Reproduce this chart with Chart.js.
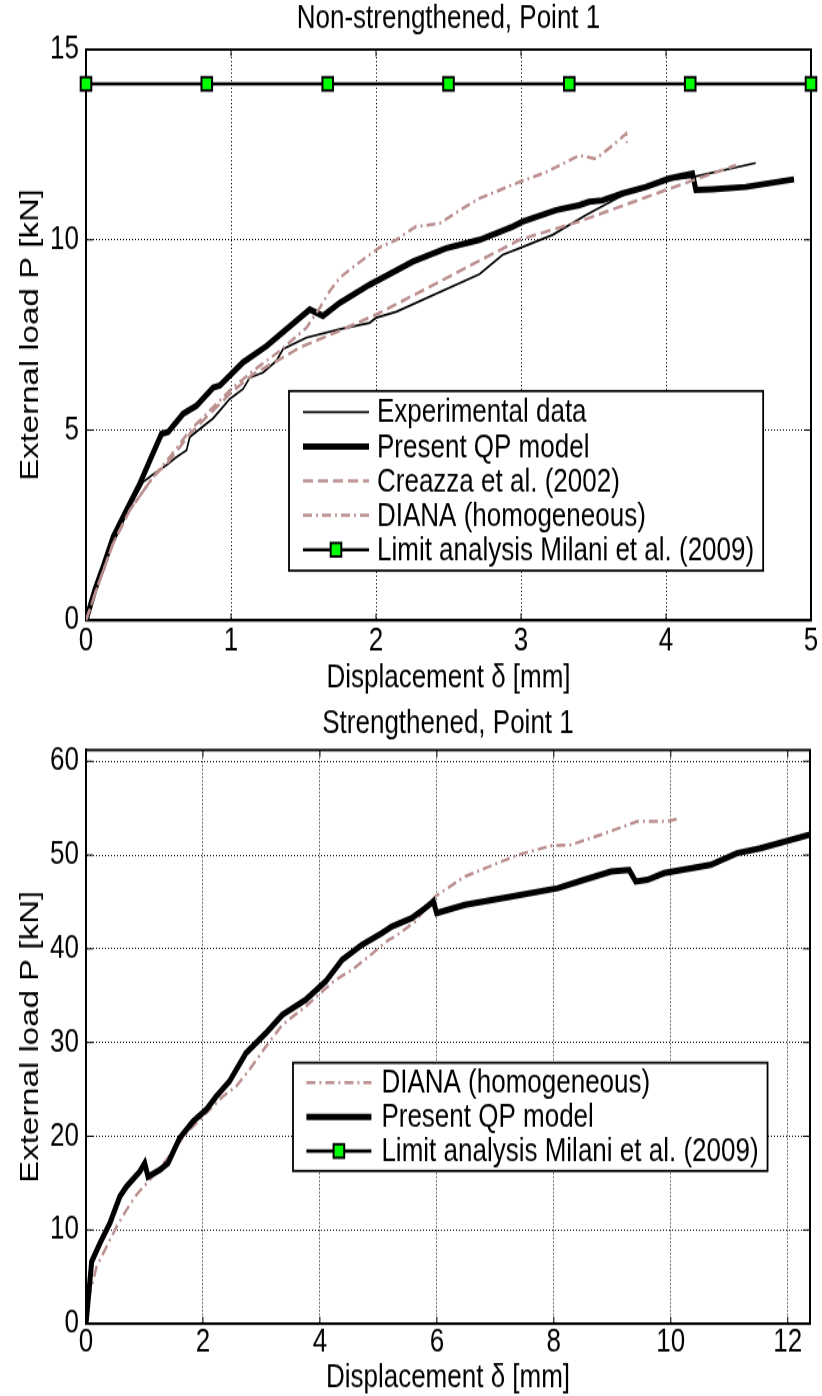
<!DOCTYPE html>
<html>
<head>
<meta charset="utf-8">
<script src="https://cdn.jsdelivr.net/npm/chart.js@4.4.0/dist/chart.umd.min.js"></script>
<style>
  html, body { margin: 0; padding: 0; background: #fff; }
  canvas { display: block; }
</style>
</head>
<body>
<!-- the figure is stretched vertically, like the original export -->
<canvas id="grafNoRef" width="822" height="551" style="width:822px;height:700px"></canvas>
<canvas id="grafRef" width="822" height="548" style="width:822px;height:696px"></canvas>
<script>
// ---- Non-strengthened, Point 1 ----
const ticksX1 = [0, 1, 2, 3, 4, 5];
const ticksY1 = [0, 5, 10, 15];

const expX = [0, 0.073, 0.188, 0.303, 0.395, 0.452, 0.556, 0.624, 0.693, 0.716, 0.877, 0.992, 1.083, 1.129, 1.221, 1.313, 1.359, 1.52, 1.749, 1.956, 2.0, 2.14, 2.714, 2.874, 2.989, 3.218, 3.448, 3.7, 3.999, 4.183, 4.619];
const expY = [0, 0.98, 2.03, 2.99, 3.64, 3.81, 4.08, 4.29, 4.47, 4.82, 5.31, 5.82, 6.08, 6.38, 6.51, 6.82, 7.13, 7.43, 7.65, 7.82, 7.95, 8.11, 9.1, 9.61, 9.78, 10.13, 10.65, 11.17, 11.57, 11.65, 12.02];

const qpX = [0, 0.062, 0.119, 0.188, 0.28, 0.372, 0.441, 0.521, 0.567, 0.67, 0.762, 0.877, 0.923, 1.083, 1.245, 1.543, 1.634, 1.749, 1.956, 2.254, 2.484, 2.714, 2.943, 3.012, 3.242, 3.402, 3.471, 3.563, 3.7, 3.862, 4.022, 4.183, 4.206, 4.32, 4.55, 4.883];
const qpY = [0, 0.81, 1.42, 2.2, 2.9, 3.6, 4.21, 4.9, 4.95, 5.43, 5.64, 6.12, 6.17, 6.78, 7.21, 8.17, 8.0, 8.34, 8.82, 9.43, 9.78, 10.0, 10.35, 10.48, 10.78, 10.91, 11.0, 11.04, 11.22, 11.39, 11.61, 11.74, 11.31, 11.33, 11.39, 11.59];

const creazzaX = [0, 0.096, 0.188, 0.303, 0.464, 0.579, 0.716, 0.831, 0.992, 1.152, 1.336, 1.474, 1.749, 2.025, 2.989, 3.402, 3.999, 4.481];
const creazzaY = [0, 1.07, 2.03, 2.9, 3.77, 4.21, 4.9, 5.34, 5.95, 6.47, 6.86, 7.17, 7.61, 8.08, 10.0, 10.48, 11.31, 11.96];

const dianaX = [0, 0.096, 0.188, 0.303, 0.464, 0.579, 0.716, 0.877, 0.992, 1.152, 1.336, 1.52, 1.612, 1.68, 1.749, 1.864, 2.025, 2.14, 2.254, 2.277, 2.438, 2.6, 2.714, 2.989, 3.173, 3.402, 3.517, 3.632, 3.724, 3.73];
const dianaY = [0, 1.07, 2.03, 2.9, 3.77, 4.3, 4.99, 5.6, 6.04, 6.56, 7.08, 7.69, 8.21, 8.65, 9.0, 9.35, 9.8, 10.0, 10.3, 10.35, 10.43, 10.83, 11.09, 11.52, 11.78, 12.22, 12.13, 12.48, 12.79, 12.55];

const limiteX = [0, 0.833, 1.667, 2.5, 3.333, 4.167, 5];
const limiteY = [14.1, 14.1, 14.1, 14.1, 14.1, 14.1, 14.1];

// ---- Strengthened, Point 1 ----
const ticksX2 = [0, 2, 4, 6, 8, 10, 12];
const ticksY2 = [0, 10, 20, 30, 40, 50, 60];

const diana2X = [0, 0.068, 0.181, 0.352, 0.522, 0.692, 0.862, 1.089, 1.373, 1.714, 2.054, 2.337, 2.565, 2.791, 3.075, 3.358, 3.755, 4.04, 4.267, 4.55, 4.834, 5.174, 5.288, 5.629, 5.969, 6.48, 7.387, 7.954, 8.294, 8.805, 9.43, 9.94, 10.11];
const diana2Y = [0, 3.25, 6.09, 8.23, 10.36, 12.14, 13.75, 15.35, 17.48, 20.33, 22.46, 24.24, 25.3, 27.08, 29.57, 31.89, 33.84, 35.44, 36.69, 37.76, 39.18, 40.95, 41.31, 42.91, 45.58, 47.71, 50.03, 50.99, 51.1, 52.17, 53.6, 53.6, 53.85];

const qp2X = [0, 0.097, 0.238, 0.409, 0.579, 0.692, 0.919, 1.004, 1.061, 1.26, 1.401, 1.6, 1.827, 2.054, 2.224, 2.451, 2.735, 3.075, 3.358, 3.755, 4.097, 4.38, 4.72, 5.06, 5.23, 5.571, 5.8, 5.94, 5.997, 6.48, 7.274, 8.068, 8.522, 8.976, 9.288, 9.4, 9.6, 9.884, 10.68, 11.13, 11.53, 12.38];
const qp2Y = [0, 6.63, 8.59, 10.73, 13.57, 14.63, 16.23, 17.13, 15.7, 16.41, 17.13, 19.8, 21.57, 22.82, 24.24, 25.84, 28.87, 31.0, 32.96, 34.56, 36.51, 38.83, 40.43, 41.67, 42.38, 43.27, 44.34, 45.05, 43.81, 44.69, 45.58, 46.47, 47.36, 48.25, 48.42, 47.18, 47.36, 48.07, 48.96, 50.2, 50.73, 52.2];

const fuente = '"Liberation Sans", Arial, sans-serif';
const rosa = '#bc8f8f';

const pares = (xs, ys) => xs.map((x, i) => ({x: x, y: ys[i]}));

const estilos = {
    exp:     {borderColor: '#000', borderWidth: 1.7, borderDash: []},
    qp:      {borderColor: '#000', borderWidth: 5, borderDash: []},
    creazza: {borderColor: rosa, borderWidth: 2.5, borderDash: [10, 5]},
    diana:   {borderColor: rosa, borderWidth: 2.5, borderDash: [9, 4, 2, 4]},
    limite:  {borderColor: '#000', borderWidth: 2.6, borderDash: [], pointStyle: 'rect', pointRadius: 7.5,
              pointBackgroundColor: '#00ff00', pointBorderColor: '#000', pointBorderWidth: 2},
};

function serie(label, est, data, orden) {
    return Object.assign({label: label, data: data, order: orden, tension: 0, pointRadius: 0,
        fill: false, backgroundColor: est.borderColor}, est);
}

// caja, marcas, titulo y leyenda al estilo matlab
const marcoMatlab = {
    id: 'marcoMatlab',
    beforeDatasetsDraw(chart) {
        const {ctx, chartArea: a, scales} = chart;
        ctx.save();
        ctx.setLineDash([]);
        ctx.strokeStyle = '#000';
        ctx.lineWidth = 1;
        ctx.beginPath();
        scales.x.ticks.forEach(t => {
            const px = scales.x.getPixelForValue(t.value);
            ctx.moveTo(px, a.bottom); ctx.lineTo(px, a.bottom - 5.5);
            ctx.moveTo(px, a.top); ctx.lineTo(px, a.top + 5.5);
        });
        scales.y.ticks.forEach(t => {
            const py = scales.y.getPixelForValue(t.value);
            ctx.moveTo(a.left, py); ctx.lineTo(a.left + 7, py);
            ctx.moveTo(a.right, py); ctx.lineTo(a.right - 7, py);
        });
        ctx.stroke();
        ctx.lineWidth = 2;
        ctx.strokeRect(a.left, a.top, a.right - a.left, a.bottom - a.top);
        ctx.restore();
    },
    afterDatasetsDraw(chart, args, opts) {
        const {ctx, chartArea: a} = chart;
        ctx.save();
        ctx.font = '26px ' + fuente;
        ctx.fillStyle = '#000';
        ctx.textAlign = 'center';
        ctx.textBaseline = 'middle';
        ctx.fillText(opts.titulo, (a.left + a.right) / 2, opts.tituloY);

        const ley = opts.leyenda;
        const items = chart.data.datasets;
        ctx.textAlign = 'left';
        const maxW = Math.max(...items.map(d => ctx.measureText(d.label).width));
        const w = ley.texto + maxW + 9;
        const h = 2 * ley.margen + (items.length - 1) * ley.paso;
        ctx.fillStyle = '#fff';
        ctx.fillRect(ley.x, ley.y, w, h);
        ctx.strokeStyle = '#000';
        ctx.lineWidth = 1.8;
        ctx.setLineDash([]);
        ctx.strokeRect(ley.x, ley.y, w, h);
        items.forEach((d, i) => {
            const cy = ley.y + ley.margen + i * ley.paso;
            ctx.beginPath();
            ctx.setLineDash(d.borderDash || []);
            ctx.lineWidth = d.borderWidth;
            ctx.strokeStyle = d.borderColor;
            ctx.moveTo(ley.x + ley.linea[0], cy);
            ctx.lineTo(ley.x + ley.linea[1], cy);
            ctx.stroke();
            if (d.pointStyle === 'rect') {
                const cx = ley.x + (ley.linea[0] + ley.linea[1]) / 2;
                const s = d.pointRadius * Math.SQRT1_2;
                ctx.setLineDash([]);
                ctx.fillStyle = d.pointBackgroundColor;
                ctx.fillRect(cx - s, cy - s, 2 * s, 2 * s);
                ctx.lineWidth = d.pointBorderWidth;
                ctx.strokeStyle = d.pointBorderColor;
                ctx.strokeRect(cx - s, cy - s, 2 * s, 2 * s);
            }
            ctx.fillStyle = '#000';
            ctx.fillText(d.label, ley.x + ley.texto, cy + 1);
        });
        ctx.restore();
    }
};

function ejes(ticksX, ticksY, xmax, ymax, altoX, padX, padTituloX) {
    const comun = {
        grid: {color: '#000', lineWidth: 1, drawTicks: false},
        border: {display: true, color: '#000', width: 2, dash: [1, 2]},
    };
    return {
        x: Object.assign({
            type: 'linear', min: 0, max: xmax,
            afterBuildTicks: s => { s.ticks = ticksX.map(v => ({value: v})); },
            afterFit: s => { s.height = altoX; },
            ticks: {color: '#000', padding: padX, maxRotation: 0, autoSkip: false, font: {size: 26, lineHeight: 1}},
            title: {display: true, text: 'Displacement \u03b4 [mm]', color: '#000', font: {size: 26, lineHeight: 1},
                    padding: {top: 0, bottom: padTituloX}},
        }, comun),
        y: Object.assign({
            type: 'linear', min: 0, max: ymax,
            afterBuildTicks: s => { s.ticks = ticksY.map(v => ({value: v})); },
            afterFit: s => { s.width = 86; },
            ticks: {color: '#000', padding: 7, autoSkip: false, font: {size: 26}},
            title: {display: true, text: 'External load P [kN]', color: '#000', font: {size: 26},
                    padding: {top: 15, bottom: 0}},
        }, comun),
    };
}

Chart.defaults.font.family = fuente;
Chart.defaults.font.size = 26;
Chart.defaults.color = '#000';

document.addEventListener('DOMContentLoaded', () => {
    let grafNoRef = new Chart(document.getElementById('grafNoRef'), {
        type: 'line',
        plugins: [marcoMatlab],
        data: {
            datasets: [
                serie('Experimental data', estilos.exp, pares(expX, expY), 4),
                serie('Present QP model', estilos.qp, pares(qpX, qpY), 3),
                serie('Creazza et al. (2002)', estilos.creazza, pares(creazzaX, creazzaY), 2),
                serie('DIANA (homogeneous)', estilos.diana, pares(dianaX, dianaY), 1),
                Object.assign(serie('Limit analysis Milani et al. (2009)', estilos.limite, pares(limiteX, limiteY), 0), {clip: false}),
            ]
        },
        options: {
            responsive: false,
            animation: false,
            events: [],
            layout: {padding: {top: 39, right: 11, left: 0, bottom: 0}},
            scales: ejes(ticksX1, ticksY1, 5, 15, 62.7, 3.3, 4),
            plugins: {
                legend: {display: false},
                tooltip: {enabled: false},
                marcoMatlab: {
                    titulo: 'Non-strengthened, Point 1', tituloY: 15,
                    leyenda: {x: 289, y: 307.8, linea: [14, 80], texto: 88, paso: 27.1, margen: 16.5},
                },
            },
        }
    });

    let grafRef = new Chart(document.getElementById('grafRef'), {
        type: 'line',
        plugins: [marcoMatlab],
        data: {
            datasets: [
                serie('DIANA (homogeneous)', estilos.diana, pares(diana2X, diana2Y), 1),
                serie('Present QP model', estilos.qp, pares(qp2X, qp2Y), 0),
                serie('Limit analysis Milani et al. (2009)', estilos.limite, [], 2),
            ]
        },
        options: {
            responsive: false,
            animation: false,
            events: [],
            layout: {padding: {top: 39.4, right: 12, left: 0, bottom: 0}},
            scales: ejes(ticksX2, ticksY2, 12.38, 61.2, 56.9, 1.4, 1.2),
            plugins: {
                legend: {display: false},
                tooltip: {enabled: false},
                marcoMatlab: {
                    titulo: 'Strengthened, Point 1', tituloY: 18.9,
                    leyenda: {x: 293, y: 285.6, linea: [13.4, 78.4], texto: 88.4, paso: 26.9, margen: 15.7},
                },
            },
        }
    });
});
</script>
</body>
</html>
